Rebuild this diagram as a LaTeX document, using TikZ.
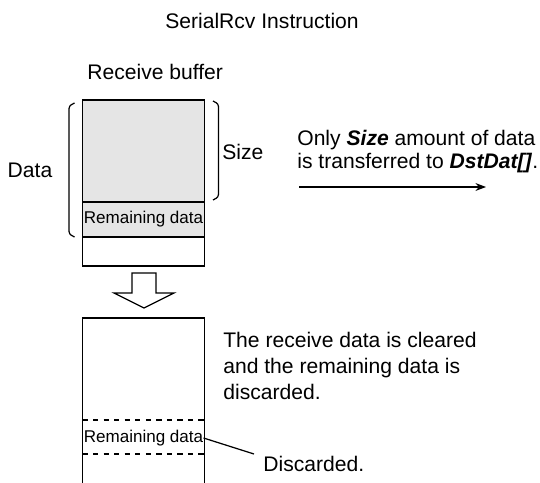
\documentclass[tikz,border=0pt]{standalone}
\usepackage{fontspec}
\setmainfont{Liberation Sans}
\usetikzlibrary{arrows.meta}

\begin{document}
\begin{tikzpicture}[
  every node/.style={inner sep=0pt, font=\fontsize{12}{14.5}\selectfont},
  bufpart/.style={rectangle, draw=black, line width=0.7pt,
                  minimum width=2.44cm, font=\fontsize{9.7}{11}\selectfont},
  bracket/.style={line width=0.7pt, rounded corners=1.5pt},
  note/.style={anchor=west, align=left}
]
\useasboundingbox (0,0) rectangle (10.8,-9.64);

% TITLE
\node (title) at (5.24,-0.42) {SerialRcv Instruction};
\node[note] (rbuf) at (1.74,-1.44) {Receive buffer};

% RECEIVE BUFFER (before)
\node[bufpart, fill=black!10, minimum height=2.04cm] (szblk) at (2.87,-3.02) {};
\node[bufpart, fill=black!10, minimum height=0.70cm] (remA) at (2.87,-4.39) {Remaining data};
\node[bufpart, minimum height=0.58cm] (empA) at (2.87,-5.03) {};

% brackets
\draw[bracket] (1.49,-2.06) -- (1.38,-2.12) -- (1.38,-4.68) -- (1.49,-4.74);
\draw[bracket] (4.26,-2.02) -- (4.37,-2.08) -- (4.37,-3.94) -- (4.26,-4.00);
\node (data) at (0.60,-3.40) {Data};
\node[note] (size) at (4.44,-3.04) {Size};

% transfer
\node[note, font=\fontsize{12}{13}\selectfont] (xfer) at (5.94,-3.03)
  {Only \textbf{\textit{Size}} amount of data\\is transferred to \textbf{\textit{DstDat[]}}.};
\coordinate (xfrom) at (5.98,-3.74);
\coordinate (xto) at (9.72,-3.74);
\draw[line width=0.7pt, -{Stealth[length=6pt,width=4.5pt]}] (xfrom) -- (xto);

% block arrow
\draw[line width=0.7pt, fill=white] (2.64,-5.46) -- (3.12,-5.46) -- (3.12,-5.86)
  -- (3.48,-5.86) -- (2.88,-6.16) -- (2.28,-5.86) -- (2.64,-5.86) -- cycle;

% RECEIVE BUFFER (after)
\draw[line width=0.7pt] (1.65,-9.70) |- (4.09,-6.36) -- (4.09,-9.70);
\draw[line width=0.7pt, dashed] (1.65,-8.40) -- (4.09,-8.40);
\draw[line width=0.7pt, dashed] (1.65,-9.08) -- (4.09,-9.08);
\node[font=\fontsize{9.7}{11}\selectfont] (remB) at (2.87,-8.76) {Remaining data};

\node[note, font=\fontsize{12}{15}\selectfont] (clr) at (4.46,-7.32)
  {The receive data is cleared\\and the remaining data is\\discarded.};
\node[note] (disc) at (5.26,-9.28) {Discarded.};
\coordinate (discend) at (5.08,-9.08);
\draw[line width=0.7pt] (remB.east) -- (discend);
\end{tikzpicture}
\end{document}
